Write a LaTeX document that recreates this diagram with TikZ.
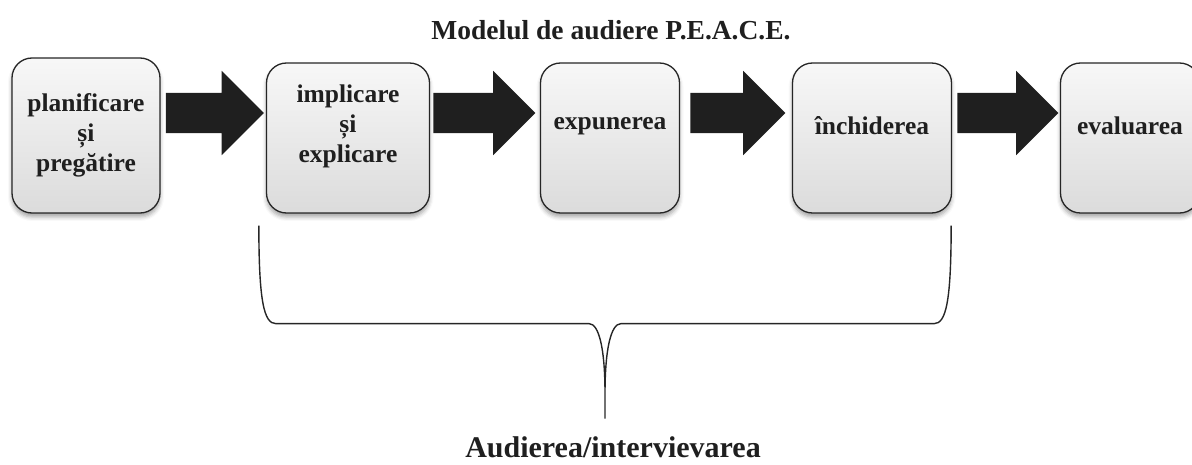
\documentclass[tikz,border=0pt]{standalone}
\usepackage{fontspec}
\setmainfont{Liberation Serif}
\usepackage{tikz}
\usetikzlibrary{calc, shapes.arrows, shadows.blur}
\tikzstyle{stage}     = [rectangle, rounded corners=20pt, draw=black!85, line width=1.3pt, top color=gray!6, bottom color=gray!28, minimum height=150pt, inner sep=0pt, blur shadow={shadow xshift=0pt, shadow yshift=-4pt, shadow blur radius=4pt, shadow opacity=35}]
\tikzstyle{stagetext} = [font=\bfseries\fontsize{25.5}{30}\selectfont, text=black!88, align=center]
\tikzstyle{bigarrow}  = [single arrow, single arrow head extend=22pt, text height=20pt, text depth=20pt, inner sep=0pt, fill=black!88, draw=none, anchor=tail]
\tikzstyle{brace}     = [line width=1.4pt, draw=black!85]

\begin{document}
\begin{tikzpicture}[x=1pt, y=1pt, node distance=262pt]
    \useasboundingbox (0,0) rectangle (1192,464);

    \node (plan)     [stage, minimum width=148pt, minimum height=155pt] at (86,328.5) {};
    \node (engage)   [stage, minimum width=163pt, right of=plan, yshift=-2.5pt] {};
    \node (expose)   [stage, minimum width=139pt, right of=engage] {};
    \node (close)    [stage, minimum width=159pt, right of=expose] {};
    \node (evaluate) [stage, minimum width=139pt, right of=close, xshift=-4pt] {};

    \node (plantext)     [stagetext] at (plan.center) {planificare\\și\\pregătire};
    \node (engagetext)   [stagetext] at ([yshift=12pt]engage.center) {implicare\\și\\explicare};
    \node (exposetext)   [stagetext] at ([yshift=12pt]expose.center) {expunerea};
    \node (closetext)    [stagetext] at ([yshift=12pt]close.center) {închiderea};
    \node (evaluatetext) [stagetext] at ([yshift=12pt]evaluate.center) {evaluarea};

    \node (a1) [bigarrow, minimum height=98pt]  at ([xshift=5pt, yshift=22.5pt]plan.east) {};
    \node (a2) [bigarrow, minimum height=102pt] at ([xshift=3pt, yshift=25pt]engage.east) {};
    \node (a3) [bigarrow, minimum height=95pt]  at ([xshift=10pt, yshift=25pt]expose.east) {};
    \node (a4) [bigarrow, minimum height=101pt] at ([xshift=5pt, yshift=25pt]close.east) {};

    \node (title) [font=\bfseries\fontsize{27.5}{33}\selectfont, text=black!88] at (611,434) {Modelul de audiere P.E.A.C.E.};

    \coordinate (bl)  at ([xshift=-7pt, yshift=-12pt]engage.south west);
    \coordinate (br)  at ([xshift=-1pt, yshift=-12pt]close.south east);
    \coordinate (tip) at ($(bl)!.5!(br)+(0,-193)$);

    \draw [brace] (bl) .. controls +(0,-75) and +(-12,0) .. ($(bl)+(17,-98)$)
        -- ($(tip)+(-16,95)$) .. controls +(10,0) and +(0,45) .. ($(tip)+(0,25)$) -- (tip)
        -- ($(tip)+(0,25)$) .. controls +(0,45) and +(-10,0) .. ($(tip)+(16,95)$)
        -- ($(br)+(-17,-98)$) .. controls +(12,0) and +(0,-75) .. (br);

    \node (interview) [font=\bfseries\fontsize{30}{36}\selectfont, text=black!88] at ($(tip)+(8,-29)$) {Audierea/intervievarea};
\end{tikzpicture}
\end{document}
